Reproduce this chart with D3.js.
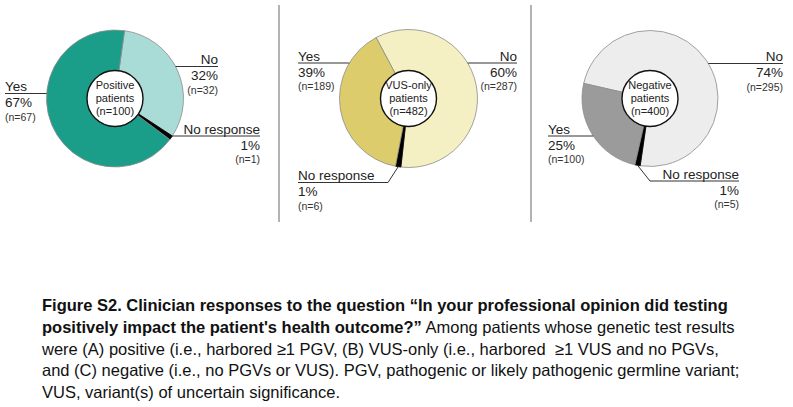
<!DOCTYPE html>
<html><head><meta charset="utf-8">
<script src="https://cdn.jsdelivr.net/npm/d3@7"></script>
<style>
html,body{margin:0;padding:0;background:#fff;}
svg{display:block;font-family:"Liberation Sans",Arial,Helvetica,sans-serif;}
</style></head>
<body>
<script>
// ---------- DATA ----------
const categories = ["No", "No response", "Yes"];
const groupNames = ["Positive", "VUS-only", "Negative"];
const groupTotals = [100, 482, 400];
const positiveCounts = [32, 1, 67];
const vusCounts = [287, 6, 189];
const negativeCounts = [295, 5, 100];
const positivePct = ["32%", "1%", "67%"];
const vusPct = ["60%", "1%", "39%"];
const negativePct = ["74%", "1%", "25%"];
const captionLines = [
  ["Figure S2. Clinician responses to the question \u201cIn your professional opinion did testing", ""],
  ["positively impact the patient's health outcome?\u201d", " Among patients whose genetic test results"],
  ["", "were (A) positive (i.e., harbored \u22651 PGV, (B) VUS-only (i.e., harbored  \u22651 VUS and no PGVs,"],
  ["", "and (C) negative (i.e., no PGVs or VUS). PGV, pathogenic or likely pathogenic germline variant;"],
  ["", "VUS, variant(s) of uncertain significance."]
];

// ---------- LAYOUT / STYLE ----------
const W = 793, H = 407;
const svg = d3.select("body").append("svg").attr("width", W).attr("height", H);
svg.append("rect").attr("width", W).attr("height", H).attr("fill", "#fff");

const panels = [
  { counts: positiveCounts, pct: positivePct, cx: 115, cy: 98.5, r: 68.5, start: 8,
    colors: ["#a9dcd6", "#000000", "#1b9e89"],
    labels: [
      { anchor: "end", x: 218, y: 64 },
      { anchor: "end", x: 260, y: 133.5, lineFrom: 171 },
      { anchor: "start", x: 5, y: 91 }
    ] },
  { counts: vusCounts, pct: vusPct, cx: 408.5, cy: 98.5, r: 69, start: -28,
    colors: ["#f4f0c3", "#000000", "#dccc6c"],
    labels: [
      { anchor: "end", x: 517, y: 60.5 },
      { anchor: "start", x: 298, y: 180, lineTo: 388, diag: true },
      { anchor: "start", x: 298, y: 60.5 }
    ] },
  { counts: negativeCounts, pct: negativePct, cx: 650, cy: 98.5, r: 68, start: 282.8,
    colors: ["#ededed", "#000000", "#9b9b9b"],
    labels: [
      { anchor: "end", x: 783, y: 61 },
      { anchor: "end", x: 739, y: 178.5, lineFrom: 650, diag: true },
      { anchor: "start", x: 548, y: 133.5 }
    ] }
];
const innerR = 28;
const deg = Math.PI / 180;

// separators
[279, 531].forEach(x => {
  svg.append("line").attr("x1", x).attr("x2", x).attr("y1", 5).attr("y2", 222)
    .attr("stroke", "#9a9a9a").attr("stroke-width", 1.5);
});

panels.forEach((p, gi) => {
  const g = svg.append("g");
  const pie = d3.pie().sort(null).value(d => d)
    .startAngle(p.start * deg).endAngle(p.start * deg + 2 * Math.PI);
  const arcs = pie(p.counts);
  const arc = d3.arc().innerRadius(0).outerRadius(p.r);
  const pg = g.append("g").attr("transform", `translate(${p.cx},${p.cy})`);
  pg.selectAll("path").data(arcs).join("path")
    .attr("d", arc)
    .attr("fill", (d, i) => p.colors[i])
    .attr("stroke", (d, i) => i === 1 ? "#000" : "#8c8c8c")
    .attr("stroke-width", 0.8);
  pg.append("circle").attr("r", innerR).attr("fill", "#fff")
    .attr("stroke", "#111").attr("stroke-width", 1.4);
  const ct = pg.append("text").attr("text-anchor", "middle")
    .attr("font-size", 11).attr("fill", "#222");
  [groupNames[gi], "patients", `(n=${groupTotals[gi]})`].forEach((t, k) => {
    ct.append("tspan").attr("x", 0).attr("y", -10 + k * 13).text(t);
  });

  // labels
  arcs.forEach((a, i) => {
    const L = p.labels[i];
    const ly = L.y + 2.5;
    const dy = ly - p.cy;
    const edgeDx = Math.sqrt(Math.max(0, p.r * p.r - dy * dy));
    let x1, x2;
    if (L.diag) {
      const mid = (a.startAngle + a.endAngle) / 2;
      const sx = p.cx + Math.sin(mid) * p.r, sy = p.cy - Math.cos(mid) * p.r;
      const jx = L.anchor === "start" ? L.lineTo : L.lineFrom;
      g.append("line").attr("x1", sx).attr("y1", sy).attr("x2", jx).attr("y2", ly)
        .attr("stroke", "#333").attr("stroke-width", 1);
      if (L.anchor === "start") { x1 = L.x; x2 = L.lineTo; } else { x1 = L.lineFrom; x2 = L.x; }
    } else if (L.anchor === "end") {
      x1 = p.cx + edgeDx; x2 = L.x;
    } else {
      x1 = L.x; x2 = p.cx - edgeDx;
    }
    g.append("line").attr("x1", x1).attr("x2", x2).attr("y1", ly).attr("y2", ly)
      .attr("stroke", "#333").attr("stroke-width", 1);
    g.append("text").attr("x", L.x).attr("y", L.y).attr("text-anchor", L.anchor)
      .attr("font-size", 13.5).attr("fill", "#222").text(categories[i]);
    g.append("text").attr("x", L.x).attr("y", L.y + 16).attr("text-anchor", L.anchor)
      .attr("font-size", 13.5).attr("fill", "#222").text(p.pct[i]);
    g.append("text").attr("x", L.x).attr("y", L.y + 29.5).attr("text-anchor", L.anchor)
      .attr("font-size", 10.5).attr("fill", "#333").text(`(n=${p.counts[i]})`);
  });
});

// caption
const capX = 42, capY0 = 311, capDy = 21.8;
const cap = svg.append("g").attr("fill", "#111");
const texts = captionLines.map((ln, k) => {
  const t = cap.append("text").attr("x", capX).attr("y", capY0 + k * capDy)
    .attr("font-size", 16).style("white-space", "pre");
  if (ln[0]) t.append("tspan").attr("font-weight", "bold").text(ln[0]);
  if (ln[1]) t.append("tspan").text(ln[1]);
  return t;
});
// fit font size so first line spans the measured width
const w0 = texts[0].node().getComputedTextLength();
const fs = 16 * 686 / w0;
texts.forEach(t => t.attr("font-size", fs));
</script>
</body></html>
